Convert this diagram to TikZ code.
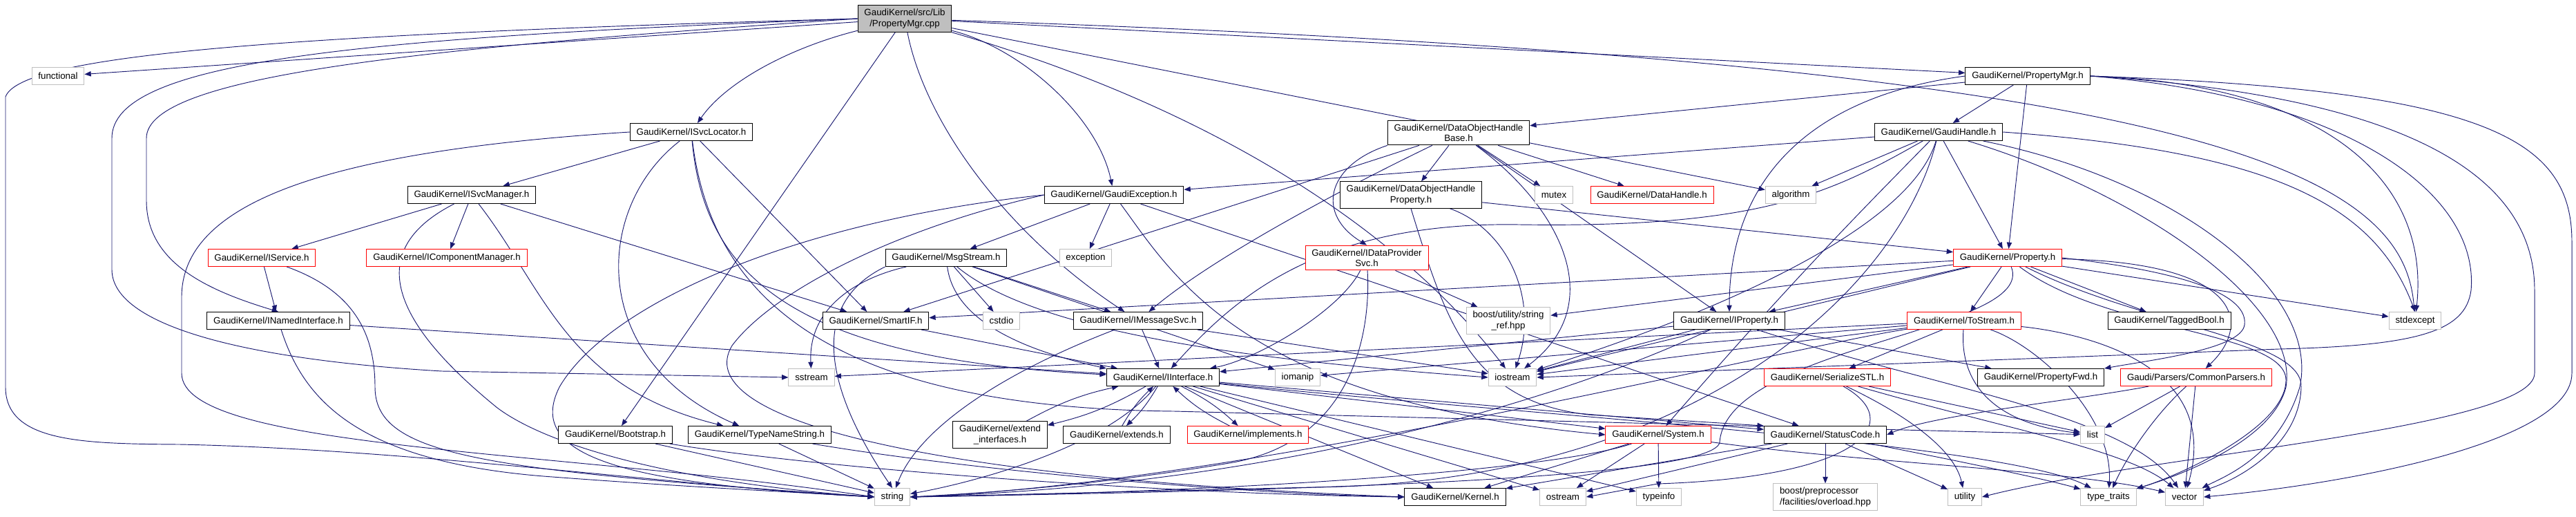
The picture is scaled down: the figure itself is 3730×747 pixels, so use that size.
\documentclass[tikz,border=0pt]{standalone}
\usepackage{fontspec}
\setmainfont{Liberation Sans}
\usetikzlibrary{arrows.meta}
\definecolor{edgeblue}{HTML}{191970}
\definecolor{sysgray}{HTML}{BFBFBF}
\pgfdeclarelayer{bg}
\pgfsetlayers{bg,main}

\begin{document}
\begin{tikzpicture}[x=0.75pt,y=-0.75pt]
      \tikzstyle{every node}=[font=\fontsize{10}{11.5}\selectfont]
      \tikzstyle{hdr}=[rectangle, draw=black, fill=white, line width=0.75pt, minimum height=18.75pt, inner xsep=7pt, inner ysep=4pt, align=center]
      \tikzstyle{trunc}=[hdr, draw=red]
      \tikzstyle{sys}=[hdr, draw=sysgray]
      \tikzstyle{rootnode}=[hdr, fill=sysgray]
      \tikzstyle{dep}=[draw=edgeblue, line width=0.7pt, -{Triangle[length=7pt,width=5.5pt]}]
      \useasboundingbox (0,0) rectangle (3730,747);

      \node[rootnode] (cpp) at (1310,27) {GaudiKernel/src/Lib\\/PropertyMgr.cpp};
      \node[sys] (functional) at (84,110) {functional};
      \node[hdr] (pmgrh) at (2936,110) {GaudiKernel/PropertyMgr.h};
      \node[hdr] (svcloc) at (1001,191) {GaudiKernel/ISvcLocator.h};
      \node[hdr] (dohbase) at (2112,192) {GaudiKernel/DataObjectHandle\\Base.h};
      \node[hdr] (ghandle) at (2807,191) {GaudiKernel/GaudiHandle.h};
      \node[hdr] (svcmgr) at (683,282) {GaudiKernel/ISvcManager.h};
      \node[hdr] (gexc) at (1613,282) {GaudiKernel/GaudiException.h};
      \node[hdr] (dohprop) at (2043,282) {GaudiKernel/DataObjectHandle\\Property.h};
      \node[sys] (mutex) at (2250,282) {mutex};
      \node[trunc] (datahandle) at (2392,282) {GaudiKernel/DataHandle.h};
      \node[sys] (algorithm) at (2593,282) {algorithm};
      \node[trunc] (iservice) at (379,373) {GaudiKernel/IService.h};
      \node[trunc] (icompmgr) at (647,373) {GaudiKernel/IComponentManager.h};
      \node[hdr] (msgstream) at (1370,373) {GaudiKernel/MsgStream.h};
      \node[sys] (exception) at (1572,373) {exception};
      \node[trunc] (idpsvc) at (1979,373) {GaudiKernel/IDataProvider\\Svc.h};
      \node[trunc] (property) at (2907,373) {GaudiKernel/Property.h};
      \node[hdr] (inamed) at (403,464) {GaudiKernel/INamedInterface.h};
      \node[hdr] (smartif) at (1268,464) {GaudiKernel/SmartIF.h};
      \node[sys] (cstdio) at (1450,464) {cstdio};
      \node[hdr] (imsgsvc) at (1648,464) {GaudiKernel/IMessageSvc.h};
      \node[sys] (stringref) at (2184,464) {boost/utility/string\\\_ref.hpp};
      \node[hdr] (iproperty) at (2504,464) {GaudiKernel/IProperty.h};
      \node[trunc] (tostream) at (2844,464) {GaudiKernel/ToStream.h};
      \node[hdr] (taggedbool) at (3141,464) {GaudiKernel/TaggedBool.h};
      \node[sys] (stdexcept) at (3497,464) {stdexcept};
      \node[sys] (sstream) at (1175,546) {sstream};
      \node[hdr] (iinterface) at (1684,546) {GaudiKernel/IInterface.h};
      \node[sys] (iomanip) at (1879,546) {iomanip};
      \node[sys] (iostream) at (2190,546) {iostream};
      \node[trunc] (serialize) at (2646,546) {GaudiKernel/SerializeSTL.h};
      \node[hdr] (propfwd) at (2955,546) {GaudiKernel/PropertyFwd.h};
      \node[trunc] (parsers) at (3180,546) {Gaudi/Parsers/CommonParsers.h};
      \node[hdr] (bootstrap) at (891,629) {GaudiKernel/Bootstrap.h};
      \node[hdr] (typename) at (1100,629) {GaudiKernel/TypeNameString.h};
      \node[hdr] (extendif) at (1448,629) {GaudiKernel/extend\\\_interfaces.h};
      \node[hdr] (extends) at (1617,629) {GaudiKernel/extends.h};
      \node[trunc] (implements) at (1807,629) {GaudiKernel/implements.h};
      \node[trunc] (system) at (2401,629) {GaudiKernel/System.h};
      \node[hdr] (statuscode) at (2643,629) {GaudiKernel/StatusCode.h};
      \node[sys] (list) at (3030,629) {list};
      \node[sys] (string) at (1292,719) {string};
      \node[hdr] (kernel) at (2107,719) {GaudiKernel/Kernel.h};
      \node[sys] (ostream) at (2263,719) {ostream};
      \node[sys] (typeinfo) at (2402,719) {typeinfo};
      \node[sys, align=left] (overload) at (2643,719) {boost/preprocessor\\/facilities/overload.hpp};
      \node[sys] (utility) at (2845,719) {utility};
      \node[sys] (typetraits) at (3053,719) {type\_traits};
      \node[sys] (vector) at (3163,719) {vector};

      \begin{pgfonlayer}{bg}
      \draw[dep] (cpp) -- (functional);
      \draw[dep] (cpp.west) .. controls (400,50) and (30,80) .. (8,140) -- (8,560) .. controls (8,640) and (120,642) .. (260,643) .. controls (600,650) and (1000,705) .. (string.west);
      \draw[dep] (cpp.west) .. controls (500,55) and (162,90) .. (162,200) -- (162,390) .. controls (162,470) and (350,520) .. (640,537) -- (sstream.west);
      \draw[dep] (cpp.west) .. controls (600,70) and (212,110) .. (212,200) -- (212,290) .. controls (212,380) and (300,420) .. (inamed.north);
      \draw[dep] (cpp) .. controls (1140,70) and (1050,120) .. (svcloc);
      \draw[dep] (cpp) -- (bootstrap);
      \draw[dep] (cpp) .. controls (1340,180) and (1460,340) .. (imsgsvc);
      \draw[dep] (cpp) .. controls (1480,70) and (1590,170) .. (gexc);
      \draw[dep] (cpp) .. controls (1700,140) and (2000,300) .. (iostream);
      \draw[dep] (cpp) -- (pmgrh);
      \draw[dep] (cpp) -- (algorithm);
      \draw[dep] (cpp) .. controls (3200,90) and (3480,250) .. (stdexcept);

      \draw[dep] (pmgrh) -- (dohbase);
      \draw[dep] (pmgrh) -- (ghandle);
      \draw[dep] (pmgrh) -- (property);
      \draw[dep] (pmgrh.west) .. controls (2620,140) and (2504,260) .. (iproperty.north);
      \draw[dep] (pmgrh.east) .. controls (3350,120) and (3520,250) .. (stdexcept);
      \draw[dep] (pmgrh.east) .. controls (3600,130) and (3724,200) .. (3724,350) -- (3724,540) .. controls (3724,640) and (3400,700) .. (vector.east);
      \draw[dep] (pmgrh.east) .. controls (3500,140) and (3670,260) .. (3670,420) -- (3670,540) .. controls (3670,620) and (3100,660) .. (utility.east);
      \draw[dep] (pmgrh.east) .. controls (3400,140) and (3590,280) .. (3578,420) .. controls (3570,480) and (3500,500) .. (3300,505) -- (iostream.east);

      \draw[dep] (ghandle) -- (gexc);
      \draw[dep] (ghandle) -- (algorithm);
      \draw[dep] (ghandle) -- (property);
      \draw[dep] (ghandle) .. controls (2650,280) and (2550,330) .. (2200,325) .. controls (1900,320) and (1780,440) .. (iinterface);
      \draw[dep] (ghandle) .. controls (2700,300) and (2600,400) .. (system);
      \draw[dep] (ghandle) .. controls (2760,350) and (2400,480) .. (iostream);
      \draw[dep] (ghandle) .. controls (2750,420) and (2450,700) .. (1900,705) -- (string.east);
      \draw[dep] (ghandle.east) .. controls (3300,220) and (3440,300) .. (stdexcept.north);
      \draw[dep] (ghandle) .. controls (3150,260) and (3360,420) .. (3330,560) .. controls (3300,660) and (3220,690) .. (vector);
      \draw[dep] (ghandle) .. controls (3100,280) and (3330,440) .. (3310,560) .. controls (3290,640) and (3150,690) .. (typetraits);

      \draw[dep] (dohbase) -- (dohprop);
      \draw[dep] (dohbase) -- (mutex);
      \draw[dep] (dohbase) -- (datahandle);
      \draw[dep] (dohbase.south west) .. controls (1920,240) and (1905,310) .. (idpsvc.north);
      \draw[dep] (dohbase) -- (smartif);
      \draw[dep] (dohbase) .. controls (1950,270) and (1760,370) .. (imsgsvc);
      \draw[dep] (dohbase) .. controls (2260,300) and (2330,440) .. (iostream);
      \draw[dep] (dohbase) -- (iproperty);

      \draw[dep] (dohprop) -- (property);
      \draw[dep] (dohprop) .. controls (2180,330) and (2230,430) .. (iostream);
      \draw[dep] (dohprop.south) .. controls (2095,470) and (2130,580) .. (2300,600) -- (statuscode.north west);

      \draw[dep] (gexc) -- (msgstream);
      \draw[dep] (gexc) -- (exception);
      \draw[dep] (gexc.west) .. controls (1150,320) and (880,440) .. (810,560) .. controls (760,660) and (900,700) .. (string.west);
      \draw[dep] (gexc.west) .. controls (1300,330) and (1120,420) .. (1060,500) .. controls (1000,600) and (1300,690) .. (kernel.west);
      \draw[dep] (gexc) -- (statuscode);
      \draw[dep] (gexc) .. controls (1700,400) and (1800,580) .. (system.west);

      \draw[dep] (svcloc) -- (svcmgr);
      \draw[dep] (svcloc.west) .. controls (450,220) and (263,300) .. (263,430) -- (263,540) .. controls (263,650) and (800,650) .. (string.west);
      \draw[dep] (svcloc) .. controls (860,300) and (850,520) .. (typename);
      \draw[dep] (svcloc) -- (smartif);
      \draw[dep] (svcloc) .. controls (1030,430) and (1200,590) .. (1700,595) -- (list);
      \draw[dep] (svcloc) .. controls (1020,400) and (1150,520) .. (iinterface);

      \draw[dep] (svcmgr) -- (icompmgr);
      \draw[dep] (svcmgr) -- (iservice);
      \draw[dep] (svcmgr) -- (smartif);
      \draw[dep] (svcmgr) .. controls (790,420) and (820,560) .. (typename);
      \draw[dep] (svcmgr) .. controls (530,360) and (560,460) .. (720,590) .. controls (800,650) and (1000,700) .. (string.west);

      \draw[dep] (iservice) -- (inamed);
      \draw[dep] (iservice) .. controls (510,420) and (543,480) .. (543,560) .. controls (543,660) and (700,680) .. (string.west);

      \draw[dep] (inamed) -- (iinterface);
      \draw[dep] (inamed) .. controls (440,580) and (520,670) .. (800,690) .. controls (1000,705) and (1150,712) .. (string.west);

      \draw[dep] (smartif) -- (iinterface);

      \draw[dep] (imsgsvc) -- (iinterface);
      \draw[dep] (imsgsvc) .. controls (1450,540) and (1330,620) .. (string);
      \draw[dep] (imsgsvc) -- (iostream);

      \draw[dep] (msgstream) -- (imsgsvc);
      \draw[dep] (msgstream) -- (cstdio);
      \draw[dep] (msgstream) .. controls (1250,400) and (1170,440) .. (sstream);
      \draw[dep] (msgstream.south west) .. controls (1150,450) and (1220,600) .. (string.north);
      \draw[dep] (msgstream) .. controls (1380,450) and (1450,500) .. (iinterface.north west);
      \draw[dep] (msgstream) -- (iomanip);
      \draw[dep] (msgstream) .. controls (1500,480) and (1800,520) .. (iostream.west);

      \draw[dep] (idpsvc) -- (stringref);
      \draw[dep] (idpsvc) .. controls (1940,450) and (1820,520) .. (iinterface);
      \draw[dep] (idpsvc) .. controls (1985,480) and (1960,640) .. (1780,670) .. controls (1600,700) and (1450,712) .. (string.east);

      \draw[dep] (property) -- (iproperty);
      \draw[dep] (property) -- (tostream);
      \draw[dep] (property) -- (smartif);
      \draw[dep] (property) -- (stringref);
      \draw[dep] (property) -- (iostream);
      \draw[dep] (property) .. controls (2950,480) and (2500,500) .. (2490,640) .. controls (2480,700) and (1700,712) .. (string.east);
      \draw[dep] (property) .. controls (3250,380) and (3260,470) .. (parsers);
      \draw[dep] (property) -- (taggedbool);
      \draw[dep] (property) -- (stdexcept);
      \draw[dep] (property.east) .. controls (3180,395) and (3255,430) .. (3250,470) .. controls (3245,505) and (3120,520) .. (propfwd.north east);
      \draw[dep] (property) .. controls (3050,480) and (3310,480) .. (3310,550) .. controls (3310,620) and (3150,690) .. (typetraits);
      \draw[dep] (property) .. controls (3100,470) and (3335,490) .. (3332,560) .. controls (3330,640) and (3250,690) .. (vector);

      \draw[dep] (iproperty) -- (propfwd);
      \draw[dep] (iproperty) -- (iinterface);
      \draw[dep] (iproperty) -- (iostream);
      \draw[dep] (iproperty) .. controls (2300,560) and (1900,700) .. (string.east);
      \draw[dep] (iproperty) .. controls (2800,560) and (3080,600) .. (vector);

      \draw[dep] (tostream) -- (serialize);
      \draw[dep] (tostream) -- (iomanip);
      \draw[dep] (tostream) -- (sstream);
      \draw[dep] (tostream) -- (iostream);
      \draw[dep] (tostream) .. controls (2838,540) and (2870,610) .. (list);
      \draw[dep] (tostream) .. controls (2600,500) and (1800,700) .. (string.east);
      \draw[dep] (tostream) .. controls (3000,480) and (3220,520) .. (vector);
      \draw[dep] (tostream) .. controls (2950,500) and (3060,600) .. (typetraits);

      \draw[dep] (serialize) .. controls (2760,610) and (2700,690) .. (2400,700) -- (ostream.east);
      \draw[dep] (serialize) .. controls (2760,600) and (2830,650) .. (utility);
      \draw[dep] (serialize) .. controls (2900,620) and (3080,650) .. (vector);
      \draw[dep] (serialize) -- (list);

      \draw[dep] (parsers) .. controls (3000,580) and (2800,600) .. (statuscode.east);
      \draw[dep] (parsers) -- (list);
      \draw[dep] (parsers) -- (vector);
      \draw[dep] (parsers) .. controls (3120,600) and (3080,660) .. (typetraits);

      \draw[dep] (iinterface) to[bend left=8] (extendif);
      \draw[dep] (extendif) to[bend left=8] (iinterface);
      \draw[dep] (iinterface) to[bend left=8] (extends);
      \draw[dep] (extends) to[bend left=8] (iinterface);
      \draw[dep] (iinterface) to[bend left=8] (implements);
      \draw[dep] (implements) to[bend left=8] (iinterface);
      \draw[dep] (iinterface) -- (kernel);
      \draw[dep] (iinterface) -- (system);
      \draw[dep] (iinterface) -- (statuscode);
      \draw[dep] (iinterface) -- (ostream);
      \draw[dep] (iinterface) -- (typeinfo);
      \draw[dep] (iinterface) .. controls (2200,600) and (2900,640) .. (typetraits);
      \draw[dep] (iinterface) .. controls (1600,650) and (1400,700) .. (string);

      \draw[dep] (system) -- (typeinfo);
      \draw[dep] (system) -- (kernel);
      \draw[dep] (system) -- (ostream);
      \draw[dep] (system) .. controls (2250,680) and (1800,712) .. (string.east);
      \draw[dep] (system) .. controls (2700,670) and (3000,680) .. (vector);

      \draw[dep] (statuscode) -- (overload);
      \draw[dep] (statuscode) -- (utility);
      \draw[dep] (statuscode) -- (kernel);
      \draw[dep] (statuscode) -- (ostream);
      \draw[dep] (statuscode) .. controls (2800,660) and (2950,690) .. (typetraits);

      \draw[dep] (bootstrap) -- (string);
      \draw[dep] (bootstrap) .. controls (1200,680) and (1700,715) .. (kernel.west);
      \draw[dep] (typename) -- (string);
      \draw[dep] (typename) .. controls (1400,680) and (1800,715) .. (kernel.west);
      \end{pgfonlayer}
\end{tikzpicture}
\end{document}
